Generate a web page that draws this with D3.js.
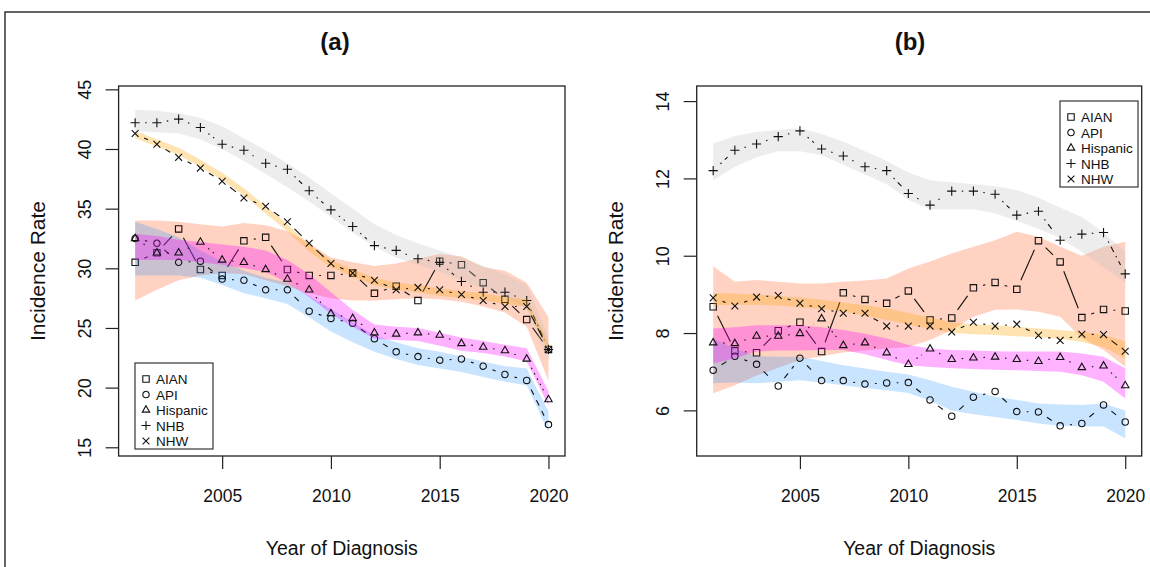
<!DOCTYPE html>
<html>
<head>
<meta charset="utf-8">
<script src="https://cdn.jsdelivr.net/npm/d3@7"></script>
<style>
  body { margin: 0; background: #fff; }
  text { font-family: "Liberation Sans", Arial, sans-serif; fill: #111; }
</style>
</head>
<body>
<div id="chart"></div>
<script>
// categories
const years = [2001, 2002, 2003, 2004, 2005, 2006, 2007, 2008, 2009, 2010,
               2011, 2012, 2013, 2014, 2015, 2016, 2017, 2018, 2019, 2020];
const groups = ["AIAN", "API", "Hispanic", "NHB", "NHW"];
const xTicks = [2005, 2010, 2015, 2020];
const yTicksA = [15, 20, 25, 30, 35, 40, 45];
const yTicksB = [6, 8, 10, 12, 14];

// panel (a) observed rates
const aianA = [30.5, 31.3, 33.3, 29.9, 29.4, 32.3, 32.6, 29.9, 29.4, 29.4, 29.6, 27.9, 28.5, 27.3, 30.6, 30.3, 28.8, 27.4, 25.7, 23.2];
const apiA  = [32.5, 32.1, 30.5, 30.6, 29.1, 29.0, 28.2, 28.2, 26.4, 25.8, 25.4, 24.1, 23.0, 22.6, 22.3, 22.4, 21.8, 21.1, 20.6, 16.9];
const hispA = [32.5, 31.3, 31.3, 32.2, 30.7, 30.5, 29.9, 29.1, 28.2, 26.2, 25.8, 24.6, 24.5, 24.6, 24.4, 23.7, 23.4, 23.1, 22.4, 19.0];
const nhbA  = [42.2, 42.2, 42.5, 41.8, 40.4, 39.9, 38.8, 38.3, 36.5, 34.9, 33.5, 31.9, 31.5, 30.8, 30.5, 28.9, 28.0, 28.0, 27.3, 23.2];
const nhwA  = [41.3, 40.4, 39.3, 38.4, 37.3, 35.9, 35.2, 33.9, 32.1, 30.4, 29.6, 29.0, 28.2, 28.4, 28.2, 27.8, 27.3, 26.8, 26.8, 23.2];

// panel (a) smoothed bands (lower / upper)
const aianA_lo = [27.3, 28.2, 29.0, 29.4, 29.6, 29.5, 29.0, 28.5, 27.9, 27.5, 27.3, 27.3, 27.4, 27.5, 27.4, 27.2, 26.8, 26.3, 25.1, 20.6];
const aianA_hi = [34.0, 34.0, 33.9, 33.7, 33.5, 33.8, 33.6, 33.1, 32.1, 30.9, 30.5, 30.2, 30.4, 30.8, 31.2, 31.0, 30.1, 29.8, 28.8, 25.9];
const apiA_lo  = [29.4, 29.4, 29.4, 29.2, 28.6, 27.9, 27.5, 27.0, 25.9, 24.7, 23.8, 23.0, 22.4, 21.9, 21.6, 21.3, 20.9, 20.5, 20.2, 16.3];
const apiA_hi  = [33.9, 33.3, 32.6, 31.5, 30.6, 29.8, 29.2, 28.8, 27.7, 26.6, 25.5, 24.4, 23.8, 23.3, 23.0, 22.6, 22.2, 21.8, 21.6, 18.0];
const hispA_lo = [30.7, 30.7, 30.7, 30.5, 30.3, 30.0, 29.7, 28.8, 27.6, 26.2, 25.1, 24.1, 24.0, 23.9, 23.5, 23.1, 22.9, 22.6, 22.2, 18.5];
const hispA_hi = [32.9, 32.7, 32.4, 32.2, 32.0, 31.8, 31.5, 30.7, 29.5, 28.0, 26.5, 25.3, 25.1, 25.0, 24.6, 24.2, 23.9, 23.6, 23.3, 19.7];
const nhbA_lo  = [41.5, 41.4, 41.3, 40.8, 40.0, 39.0, 37.9, 36.8, 35.6, 34.3, 33.0, 31.8, 30.9, 30.3, 29.7, 29.0, 28.3, 27.6, 26.6, 22.3];
const nhbA_hi  = [43.3, 43.2, 43.0, 42.6, 41.9, 40.9, 39.9, 38.8, 37.6, 36.3, 35.0, 33.7, 32.8, 32.1, 31.5, 30.9, 30.2, 29.5, 28.6, 24.3];
const nhwA_lo  = [40.9, 40.2, 39.5, 38.5, 37.4, 36.1, 34.6, 33.1, 31.4, 30.1, 29.3, 28.6, 28.2, 28.0, 27.7, 27.5, 27.3, 27.0, 26.8, 23.1];
const nhwA_hi  = [41.5, 40.8, 40.1, 39.1, 38.0, 36.7, 35.2, 33.7, 32.0, 30.7, 29.9, 29.2, 28.8, 28.6, 28.3, 28.1, 27.9, 27.6, 27.4, 23.8];

// panel (b) observed rates
const aianB = [8.68, 7.54, 7.49, 8.06, 8.28, 7.52, 9.04, 8.87, 8.77, 9.09, 8.34, 8.39, 9.17, 9.31, 9.13, 10.39, 9.84, 8.40, 8.61, 8.57];
const apiB  = [7.04, 7.40, 7.19, 6.63, 7.35, 6.77, 6.77, 6.68, 6.71, 6.72, 6.27, 5.85, 6.34, 6.49, 5.97, 5.96, 5.60, 5.66, 6.14, 5.70];
const hispB = [7.75, 7.73, 7.92, 7.92, 7.99, 8.37, 7.68, 7.75, 7.49, 7.19, 7.59, 7.32, 7.36, 7.38, 7.32, 7.27, 7.37, 7.11, 7.15, 6.64];
const nhbB  = [12.20, 12.73, 12.89, 13.08, 13.23, 12.76, 12.58, 12.30, 12.20, 11.61, 11.31, 11.67, 11.67, 11.59, 11.05, 11.15, 10.40, 10.56, 10.60, 9.53];
const nhwB  = [8.91, 8.70, 8.93, 8.97, 8.77, 8.63, 8.51, 8.51, 8.18, 8.18, 8.18, 8.03, 8.28, 8.18, 8.23, 7.94, 7.81, 7.97, 7.96, 7.53];

// panel (b) smoothed bands (lower / upper)
const aianB_lo = [6.44, 6.65, 6.90, 7.10, 7.30, 7.40, 7.50, 7.55, 7.60, 7.64, 7.82, 8.08, 8.42, 8.60, 8.61, 8.55, 8.42, 7.87, 7.56, 7.13];
const aianB_hi = [9.73, 9.33, 9.37, 9.33, 9.28, 9.28, 9.33, 9.36, 9.41, 9.67, 9.85, 10.06, 10.23, 10.40, 10.62, 10.49, 10.23, 10.00, 10.23, 10.36];
const apiB_lo  = [6.70, 6.72, 6.70, 6.74, 6.78, 6.72, 6.65, 6.58, 6.52, 6.45, 6.25, 6.00, 5.90, 5.83, 5.75, 5.66, 5.60, 5.58, 5.58, 5.28];
const apiB_hi  = [7.86, 7.60, 7.40, 7.39, 7.39, 7.28, 7.17, 7.08, 7.00, 6.93, 6.78, 6.61, 6.48, 6.35, 6.27, 6.18, 6.15, 6.14, 6.18, 6.00];
const hispB_lo = [7.21, 7.35, 7.52, 7.55, 7.55, 7.56, 7.56, 7.45, 7.30, 7.17, 7.12, 7.09, 7.07, 7.05, 7.04, 7.02, 7.00, 6.91, 6.74, 6.31];
const hispB_hi = [8.12, 8.15, 8.20, 8.20, 8.20, 8.15, 8.08, 7.98, 7.86, 7.69, 7.60, 7.56, 7.55, 7.53, 7.52, 7.52, 7.52, 7.47, 7.39, 7.09];
const nhbB_lo  = [11.95, 12.30, 12.55, 12.70, 12.70, 12.60, 12.35, 12.10, 11.85, 11.45, 11.20, 11.20, 11.20, 11.10, 10.90, 10.70, 10.45, 10.10, 9.70, 9.30];
const nhbB_hi  = [12.90, 13.10, 13.20, 13.25, 13.30, 13.15, 12.95, 12.70, 12.45, 12.15, 11.95, 11.90, 11.85, 11.80, 11.70, 11.50, 11.25, 11.00, 10.60, 10.10];
const nhwB_lo  = [8.72, 8.73, 8.73, 8.71, 8.67, 8.62, 8.55, 8.45, 8.34, 8.22, 8.11, 8.01, 7.97, 7.95, 7.92, 7.89, 7.85, 7.77, 7.64, 7.34];
const nhwB_hi  = [9.03, 9.02, 9.00, 8.96, 8.92, 8.86, 8.79, 8.72, 8.64, 8.52, 8.40, 8.28, 8.23, 8.20, 8.16, 8.12, 8.08, 8.03, 7.95, 7.78];

// band colour, opacity and line type per group
const bandFill = { AIAN: "#ff7f50", API: "#1e90ff", Hispanic: "#ff00ff", NHB: "#bebebe", NHW: "#ffa500" };
const bandAlpha = { AIAN: 0.35, API: 0.24, Hispanic: 0.3, NHB: 0.28, NHW: 0.3 };
const dash = { AIAN: null, API: "6,6", Hispanic: "1.5,4.5", NHB: "1.5,4.5,6,4.5", NHW: "10,4.5" };

const W = 1150, H = 567;
const plotTop = 86, plotBottom = 456;

const svg = d3.select("#chart")
    .append("svg")
    .attr("width", W)
    .attr("height", H);

// outer frame of the figure
svg.append("path")
    .attr("d", `M5,${H} L5,12 L${W},12`)
    .attr("fill", "none")
    .attr("stroke", "#333")
    .attr("stroke-width", 1.5);

// point symbol as a path string
function symbolPath(g, cx, cy) {
    if (g === "AIAN") { const h = 3.2; return `M${cx - h},${cy - h}h${2 * h}v${2 * h}h${-2 * h}Z`; }
    if (g === "API") { const r = 3.2; return `M${cx - r},${cy}a${r},${r} 0 1,0 ${2 * r},0a${r},${r} 0 1,0 ${-2 * r},0`; }
    if (g === "Hispanic") { const r = 4.3; return `M${cx},${cy - r}L${cx + r * 0.866},${cy + r / 2}L${cx - r * 0.866},${cy + r / 2}Z`; }
    if (g === "NHB") { const r = 4.6; return `M${cx - r},${cy}H${cx + r}M${cx},${cy - r}V${cy + r}`; }
    const r = 3.4; return `M${cx - r},${cy - r}L${cx + r},${cy + r}M${cx - r},${cy + r}L${cx + r},${cy - r}`;
}

function drawPanel(p) {
    const x = d3.scaleLinear().domain([2000.24, 2020.76]).range([p.left, p.right]);
    const y = d3.scaleLinear().domain(p.yDomain).range([plotBottom, plotTop]);
    const gap = 10;

    const g = svg.append("g");

    p.series.forEach(s => {
        // smoothed band
        const band = d3.area()
            .x((d, i) => x(years[i]))
            .y0((d, i) => y(s.lo[i]))
            .y1((d, i) => y(s.hi[i]));
        g.append("path")
            .datum(years)
            .attr("d", band)
            .attr("fill", bandFill[s.name])
            .attr("fill-opacity", bandAlpha[s.name]);

        // type "b" line: segments with gaps around the points
        const pts = years.map((yr, i) => [x(yr), y(s.vals[i])]);
        const segs = [];
        for (let i = 1; i < pts.length; i++) {
            const [x0, y0] = pts[i - 1], [x1, y1] = pts[i];
            const d = Math.hypot(x1 - x0, y1 - y0);
            if (d <= 2 * gap) continue;
            const ux = (x1 - x0) / d, uy = (y1 - y0) / d;
            segs.push([x0 + ux * gap, y0 + uy * gap, x1 - ux * gap, y1 - uy * gap]);
        }
        g.append("g").selectAll("line")
            .data(segs)
            .join("line")
            .attr("x1", d => d[0]).attr("y1", d => d[1])
            .attr("x2", d => d[2]).attr("y2", d => d[3])
            .attr("stroke", "#111")
            .attr("stroke-width", 1.1)
            .attr("stroke-dasharray", dash[s.name]);

        g.append("g").selectAll("path")
            .data(pts)
            .join("path")
            .attr("d", d => symbolPath(s.name, d[0], d[1]))
            .attr("fill", "none")
            .attr("stroke", "#111")
            .attr("stroke-width", 1.1);
    });

    // plot box
    g.append("rect")
        .attr("x", p.left).attr("y", plotTop)
        .attr("width", p.right - p.left).attr("height", plotBottom - plotTop)
        .attr("fill", "none")
        .attr("stroke", "#222")
        .attr("stroke-width", 1.3);

    // x axis
    const xAxis = g.append("g")
        .attr("transform", `translate(0,${plotBottom})`)
        .call(d3.axisBottom(x).tickValues(xTicks).tickFormat(d3.format("d")).tickSize(13).tickPadding(21));
    xAxis.select(".domain").remove();
    xAxis.selectAll("line").attr("stroke", "#222").attr("stroke-width", 1.2);
    xAxis.selectAll("text").attr("font-size", 17.5).attr("fill", "#111")
        .attr("font-family", "Liberation Sans, Arial, sans-serif");

    // y axis, labels parallel to the axis
    const yAxis = g.append("g")
        .attr("transform", `translate(${p.left},0)`)
        .call(d3.axisLeft(y).tickValues(p.yTicks).tickSize(13).tickFormat(d3.format("d")));
    yAxis.select(".domain").remove();
    yAxis.selectAll("line").attr("stroke", "#222").attr("stroke-width", 1.2);
    yAxis.selectAll("text")
        .attr("font-size", 18).attr("fill", "#111")
        .attr("font-family", "Liberation Sans, Arial, sans-serif")
        .attr("x", null).attr("dy", null)
        .attr("text-anchor", "middle")
        .attr("transform", `translate(${p.yLabelX - p.left},0) rotate(-90)`);

    // titles
    g.append("text")
        .attr("x", p.titleX).attr("y", 50)
        .attr("text-anchor", "middle")
        .attr("font-size", 24).attr("font-weight", "bold")
        .text(p.title);

    g.append("text")
        .attr("x", (p.left + p.right) / 2).attr("y", 555)
        .attr("text-anchor", "middle")
        .attr("font-size", 19.5)
        .text("Year of Diagnosis");

    g.append("text")
        .attr("transform", `translate(${p.yTitleX},${(plotTop + plotBottom) / 2}) rotate(-90)`)
        .attr("text-anchor", "middle")
        .attr("font-size", 21)
        .text("Incidence Rate");

    // legend
    const lg = g.append("g").attr("transform", `translate(${p.legend[0]},${p.legend[1]})`);
    lg.append("rect")
        .attr("width", 78).attr("height", 86)
        .attr("fill", "#fff")
        .attr("stroke", "#222").attr("stroke-width", 1.1);
    groups.forEach((name, i) => {
        const cy = 16 + i * 15.5;
        lg.append("path")
            .attr("d", symbolPath(name, 11, cy))
            .attr("fill", "none").attr("stroke", "#111").attr("stroke-width", 1.1);
        lg.append("text")
            .attr("x", 21).attr("y", cy + 5)
            .attr("font-size", 13.5)
            .text(name);
    });
}

drawPanel({
    left: 118.6, right: 565, yDomain: [14.27, 45.28], yTicks: yTicksA,
    yLabelX: 91, yTitleX: 44.5, titleX: 335, title: "(a)", legend: [135, 363],
    series: [
        { name: "AIAN", vals: aianA, lo: aianA_lo, hi: aianA_hi },
        { name: "API", vals: apiA, lo: apiA_lo, hi: apiA_hi },
        { name: "Hispanic", vals: hispA, lo: hispA_lo, hi: hispA_hi },
        { name: "NHB", vals: nhbA, lo: nhbA_lo, hi: nhbA_hi },
        { name: "NHW", vals: nhwA, lo: nhwA_lo, hi: nhwA_hi }
    ]
});

drawPanel({
    left: 696.7, right: 1141.7, yDomain: [4.82, 14.39], yTicks: yTicksB,
    yLabelX: 669, yTitleX: 622.5, titleX: 910, title: "(b)", legend: [1060, 101],
    series: [
        { name: "AIAN", vals: aianB, lo: aianB_lo, hi: aianB_hi },
        { name: "API", vals: apiB, lo: apiB_lo, hi: apiB_hi },
        { name: "Hispanic", vals: hispB, lo: hispB_lo, hi: hispB_hi },
        { name: "NHB", vals: nhbB, lo: nhbB_lo, hi: nhbB_hi },
        { name: "NHW", vals: nhwB, lo: nhwB_lo, hi: nhwB_hi }
    ]
});
</script>
</body>
</html>
